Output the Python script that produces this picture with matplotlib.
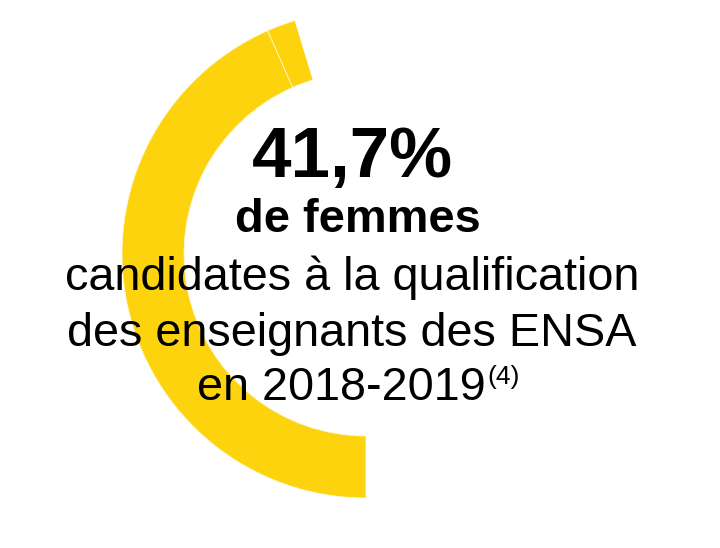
import matplotlib
matplotlib.use("Agg")
import matplotlib.pyplot as plt

# données
parts = [43.4, 1.9, 54.7]          # parts de l'anneau (%)
part_colors = ["#FCD30C", "#FCD30C", "white"]
headline = "41,7%"
line_bold = "de femmes"
lines_regular = ["candidates à la qualification", "des enseignants des ENSA"]
last_line = "en 2018-2019"
note = "(4)"

plt.rcParams["font.family"] = ["Liberation Sans", "DejaVu Sans"]

W, H = 720, 548
fig = plt.figure(figsize=(W / 100, H / 100), dpi=100)
ax = fig.add_axes([0, 0, 1, 1])

# anneau
cx, cy = 366, H - 254
R, r = 244, 182
wedges, _ = ax.pie(parts, colors=part_colors, startangle=270, counterclock=False,
                   radius=R, center=(cx, cy),
                   wedgeprops=dict(width=R - r, edgecolor="#FFF6D2", linewidth=0.6))
wedges[-1].set_edgecolor("none")

ax.set_xlim(0, W)
ax.set_ylim(0, H)
ax.set_aspect("equal")
ax.axis("off")

# textes
ax.text(352, H - 177, headline, ha="center", va="baseline",
        fontsize=51, fontweight="bold", color="black")
ax.text(358, H - 232, line_bold, ha="center", va="baseline",
        fontsize=33.8, fontweight="bold", color="black")
for txt, yb in zip(lines_regular, [290, 346]):
    ax.text(352, H - yb, txt, ha="center", va="baseline",
            fontsize=33.7, color="black")

# dernière ligne + renvoi en exposant
renderer = fig.canvas.get_renderer()
t_main = ax.text(0, H - 400, last_line, ha="left", va="baseline",
                 fontsize=33.7, color="black")
t_sup = ax.text(0, H - 384, note, ha="left", va="baseline",
                fontsize=19, color="black")
w_main = t_main.get_window_extent(renderer).width
w_sup = t_sup.get_window_extent(renderer).width
x0 = 358 - (w_main + w_sup) / 2
t_main.set_x(x0)
t_sup.set_x(x0 + w_main + 1)

fig.savefig("out.png", dpi=100, facecolor="white")
